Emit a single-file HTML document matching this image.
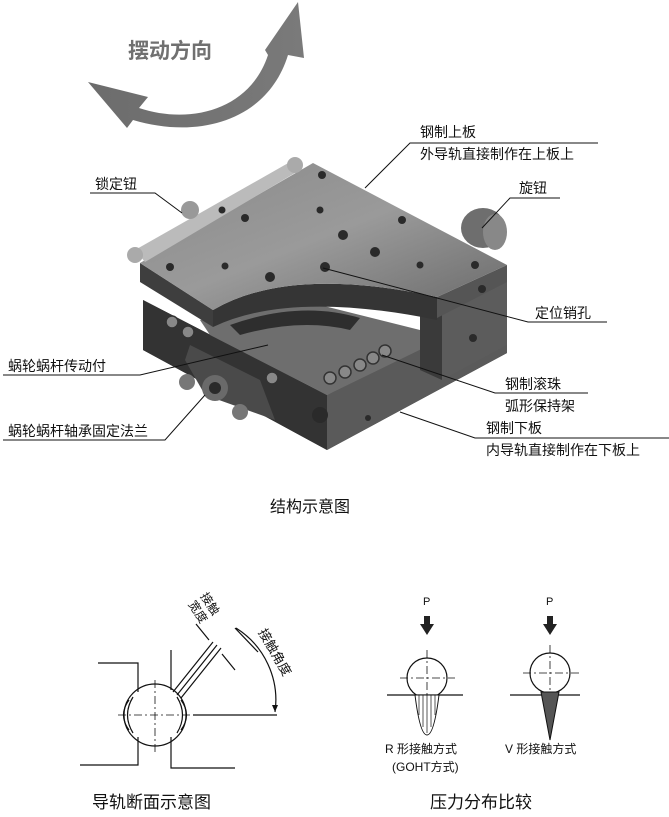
<!DOCTYPE html>
<html><head><meta charset="utf-8"><style>
html,body{margin:0;padding:0;background:#fff;}
svg{display:block}
text{font-family:"Liberation Sans","Noto Sans CJK SC",sans-serif;fill:#111}
</style></head><body>
<svg width="669" height="817" viewBox="0 0 669 817" xmlns="http://www.w3.org/2000/svg">
<defs>
<linearGradient id="top" x1="0" y1="0" x2="1" y2="1">
<stop offset="0" stop-color="#8a8a8a"/><stop offset="0.5" stop-color="#9a9a9a"/><stop offset="1" stop-color="#6a6a6a"/></linearGradient>
<linearGradient id="arr" x1="0" y1="0" x2="1" y2="0"><stop offset="0" stop-color="#6c6c6c"/><stop offset="1" stop-color="#7a7a7a"/></linearGradient>
</defs>

<path d="M88,82 L148,97 L139,108 C190,125 250,110 268,55 L265,50 L298,2 L304,58 L288,55 C268,120 200,140 133,120 L127,128 Z" fill="url(#arr)"/>
<text x="128" y="58" font-size="21" font-weight="bold" style="fill:#707070">摆动方向</text>

<polygon points="143,300 327,395 507,300 507,353 327,450 143,350" fill="#3c3c3c"/>
<polygon points="327,395 507,300 507,353 327,450" fill="#5a5a5a"/>
<polygon points="143,300 327,395 327,450 143,350" fill="#333"/>
<polygon points="200,320 300,300 420,330 440,340 327,395 210,335" fill="#6e6e6e"/>
<polygon points="442,303 507,265 507,345 442,380" fill="#5c5c5c"/>
<polygon points="420,303 442,303 442,380 420,370" fill="#3a3a3a"/>
<polygon points="190,345 260,380 275,420 205,395 185,360" fill="#4a4a4a"/>
<circle cx="215" cy="388" r="13" fill="#6a6a6a"/><circle cx="215" cy="388" r="6" fill="#2a2a2a"/>
<circle cx="187" cy="382" r="8" fill="#777"/><circle cx="240" cy="412" r="8" fill="#777"/>
<g fill="#888" stroke="#333" stroke-width="1.5">
<circle cx="330" cy="378" r="6"/><circle cx="345" cy="372" r="6"/><circle cx="360" cy="365" r="6"/><circle cx="373" cy="358" r="6"/><circle cx="385" cy="351" r="6"/>
<circle cx="172" cy="322" r="6"/><circle cx="188" cy="332" r="6"/><circle cx="272" cy="378" r="6"/></g>
<polygon points="140,263 213,310 213,327 140,282" fill="#3e3e3e"/>
<path d="M213,310 Q290,265 437,297 L437,320 Q290,290 213,327 Z" fill="#353535"/>
<polygon points="437,297 507,265 507,282 437,318" fill="#555"/>
<path d="M230,325 Q300,300 360,318 L350,330 Q300,318 240,335 Z" fill="#2e2e2e"/>
<path d="M140,263 L313,163 L507,265 L437,297 Q290,265 213,310 Z" fill="url(#top)"/>
<polygon points="135,250 290,162 300,170 145,262" fill="#bbb"/>
<circle cx="135" cy="255" r="8" fill="#aaa"/>
<circle cx="190" cy="210" r="9" fill="#999"/>
<circle cx="295" cy="165" r="8" fill="#aaa"/>
<ellipse cx="483" cy="228" rx="22" ry="20" fill="#6e6e6e"/><ellipse cx="495" cy="232" rx="12" ry="18" fill="#888"/>
<g fill="#2a2a2a">
<circle cx="322" cy="175" r="4"/><circle cx="320" cy="210" r="3.5"/><circle cx="245" cy="218" r="4"/><circle cx="402" cy="220" r="4"/>
<circle cx="343" cy="235" r="5"/><circle cx="375" cy="252" r="5"/><circle cx="325" cy="267" r="5"/><circle cx="270" cy="277" r="5"/>
<circle cx="170" cy="267" r="4"/><circle cx="225" cy="266" r="3.5"/><circle cx="222" cy="210" r="3.5"/><circle cx="420" cy="265" r="3.5"/><circle cx="475" cy="265" r="4"/>
<circle cx="482" cy="289" r="4"/><circle cx="473" cy="338" r="4"/><circle cx="368" cy="418" r="3"/><circle cx="320" cy="415" r="8"/></g>

<g stroke="#111" stroke-width="1" fill="none">
<path d="M598,143 L410,143 L365,188"/>
<path d="M560,198 L510,198 L482,228"/>
<path d="M607,322 L528,322 L323,268"/>
<path d="M588,393 L495,393 L382,355"/>
<path d="M669,438 L475,438 L400,412"/>
<path d="M90,193 L155,193 L182,213"/>
<path d="M3,375 L140,375 L268,345"/>
<path d="M3,440 L165,440 L205,395"/>
</g>
<g font-size="14">
<text x="420" y="137">钢制上板</text>
<text x="420" y="159">外导轨直接制作在上板上</text>
<text x="519" y="193">旋钮</text>
<text x="535" y="318">定位销孔</text>
<text x="505" y="389">钢制滚珠</text>
<text x="505" y="411">弧形保持架</text>
<text x="486" y="433">钢制下板</text>
<text x="486" y="455">内导轨直接制作在下板上</text>
<text x="95" y="189">锁定钮</text>
<text x="8" y="371">蜗轮蜗杆传动付</text>
<text x="8" y="436">蜗轮蜗杆轴承固定法兰</text>
</g>
<text x="270" y="512" font-size="16">结构示意图</text>

<g stroke="#111" stroke-width="1.2" fill="none">
<path d="M98,663 L138,663 L138,692"/>
<path d="M171,650 L171,690"/>
<path d="M138,737 L138,765 L80,765"/>
<path d="M171,737 L171,768 L235,768"/>
<path d="M193,715 L277,715"/>
<circle cx="155" cy="715" r="31"/>
<path d="M129,700 Q118,715 129,730 M133,697 Q122,715 133,733"/>
<path d="M181,700 Q192,715 181,730 M177,697 Q188,715 177,733"/>
<path d="M173,692 L213,642 M177,695 L217,645 M181,698 L221,648"/>
<path d="M196,624 L209,640 M222,654 L235,670"/>
<path d="M235,628 L258,652" />
<path d="M236,628 A85 85 0 0 1 275,712" />
</g>
<g stroke="#111" stroke-width="0.8" stroke-dasharray="8,3,2,3" fill="none">
<path d="M118,715 L195,715 M155,680 L155,752"/>
<path d="M427,650 L427,705 M400,678 L455,678"/>
<path d="M550,645 L550,700 M523,673 L580,673"/>
</g>
<path d="M275,712 l-3,-7 l6,0 z" fill="#111"/>
<text font-size="13" transform="translate(258,632) rotate(60)">接触角度</text>
<text font-size="12" transform="translate(200,596) rotate(57)">接触</text>
<text font-size="12" transform="translate(188,604) rotate(57)">宽度</text>
<text x="92" y="808" font-size="17">导轨断面示意图</text>

<text x="423" y="605" font-size="11">P</text>
<text x="546" y="605" font-size="11">P</text>
<path d="M424,616 h6 v8 h4 l-7,11 l-7,-11 h4 z" fill="#222"/>
<path d="M547,616 h6 v8 h4 l-7,11 l-7,-11 h4 z" fill="#222"/>
<g stroke="#111" stroke-width="1.2" fill="none">
<circle cx="427" cy="678" r="20"/>
<path d="M387,695 L463,695"/>
<circle cx="550" cy="673" r="20"/>
<path d="M510,695 L580,695"/>
</g>
<path d="M415,695 Q420,735 427,735 Q434,735 439,695 Z" fill="#fff" stroke="#111" stroke-width="1"/>
<g stroke="#111" stroke-width="0.7"><path d="M419,695v20 M423,695v32 M427,695v38 M431,695v32 M435,695v20"/></g>
<path d="M541,692 L550,740 L559,692 Z" fill="#555" stroke="#111"/>
<g font-size="12">
<text x="385" y="753">R 形接触方式</text>
<text x="392" y="771">(GOHT方式)</text>
<text x="505" y="753">V 形接触方式</text>
</g>
<text x="430" y="808" font-size="17">压力分布比较</text>
</svg>
</body></html>
